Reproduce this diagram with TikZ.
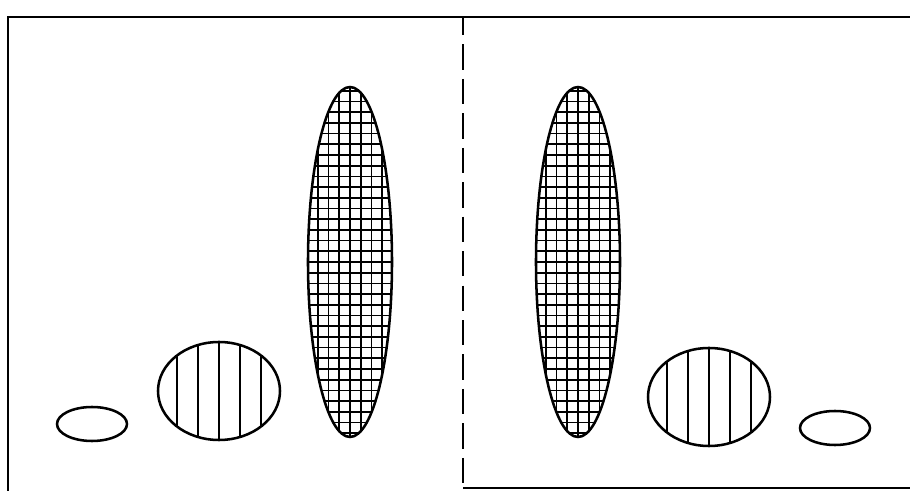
\documentclass[tikz,border=0pt]{standalone}
\begin{document}
\begin{tikzpicture}[x=0.025cm,y=-0.025cm]
                \useasboundingbox (0,0) rectangle (910,491);
                \tikzset{rim/.style={line width=1.8pt},
                         hatch/.style={line width=1.2pt}}

                % Marco
                \draw[line width=1.5pt] (8,491) -- (8,17) -- (910,17);
                \draw[line width=1.2pt] (463,488) -- (910,488);
                \draw[line width=1.7pt, dash pattern=on 18pt off 6.5pt, dash phase=5pt] (463,17) -- (463,491);

                % Elipses altas con rejilla
                \foreach \cx in {350,578} {
                    \begin{scope}
                        \clip (\cx,262) ellipse (42 and 175);
                        \foreach \k in {-4,...,4}
                            \draw[hatch] (\cx+10.7*\k,80) -- (\cx+10.7*\k,445);
                        \foreach \k in {-17,...,17}
                            \draw[hatch] (\cx-50,262+10.7*\k) -- (\cx+50,262+10.7*\k);
                    \end{scope}
                    \draw[rim] (\cx,262) ellipse (42 and 175);
                }

                % Elipses rayadas
                \foreach \cx/\cy in {219/391, 709/397} {
                    \begin{scope}
                        \clip (\cx,\cy) ellipse (61 and 49);
                        \foreach \k in {-2,...,2}
                            \draw[line width=1pt] (\cx+21*\k,\cy-50) -- (\cx+21*\k,\cy+50);
                    \end{scope}
                    \draw[rim] (\cx,\cy) ellipse (61 and 49);
                }

                % Elipses chicas
                \draw[rim] (92,424) ellipse (35 and 17);
                \draw[rim] (835,428) ellipse (35 and 17);
\end{tikzpicture}
\end{document}
